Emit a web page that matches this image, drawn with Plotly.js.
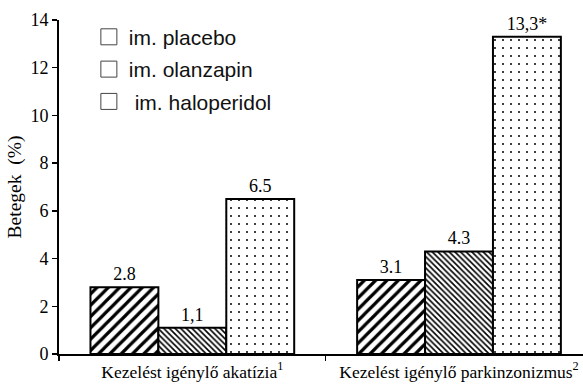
<!DOCTYPE html>
<html>
<head>
<meta charset="utf-8">
<script src="https://cdn.plot.ly/plotly-3.0.1.min.js"></script>
<style>html,body{margin:0;padding:0;background:#fff;}#chart{width:583px;height:385px;}</style>
</head>
<body>
<div id="chart"></div>
<script>
const categories = ["Kezelést igénylő akatízia<sup>1</sup>", "Kezelést igénylő parkinzonizmus<sup>2</sup>"];
const seriesNames = ["im. placebo", "im. olanzapin", " im. haloperidol"];
const placebo = [2.8, 3.1];
const olanzapin = [1.1, 4.3];
const haloperidol = [6.5, 13.3];
const placeboLabels = ["2.8", "3.1"];
const olanzapinLabels = ["1,1", "4.3"];
const haloperidolLabels = ["6.5", "13,3*"];
const yTicks = [0, 2, 4, 6, 8, 10, 12, 14];

const serif = "Liberation Serif, Times New Roman, serif";
const sans = "Liberation Sans, Arial, sans-serif";

function barTrace(vals, labels, name, shape, size, solidity) {
  return {
    type: "bar", x: categories, y: vals, name: name, showlegend: false,
    text: labels, textposition: "outside", cliponaxis: false,
    textfont: {family: serif, size: 18, color: "#000"},
    marker: {color: "#fff", line: {color: "#000", width: 2},
      pattern: {shape: shape, fgcolor: "#000", bgcolor: "#fff", size: size, solidity: solidity}}
  };
}
function legendTrace(name, i) {
  return {
    type: "scatter", mode: "markers", x: [null], y: [null], name: name,
    legendgroup: "g" + i, hoverinfo: "skip",
    marker: {symbol: "square-open", size: 16, color: "#444", line: {width: 1, color: "#444"}}
  };
}

const data = [
  barTrace(placebo, placeboLabels, seriesNames[0], "/", 8, 0.4),
  barTrace(olanzapin, olanzapinLabels, seriesNames[1], "\\", 4, 0.4),
  barTrace(haloperidol, haloperidolLabels, seriesNames[2], ".", 8, 0.05),
  legendTrace(seriesNames[0], 0),
  legendTrace(seriesNames[1], 1),
  legendTrace(seriesNames[2], 2)
];

const layout = {
  width: 583, height: 385,
  margin: {l: 59, r: 0, t: 20, b: 31},
  paper_bgcolor: "#fff", plot_bgcolor: "#fff",
  barmode: "group", bargap: 0.236, bargroupgap: 0,
  showlegend: true,
  legend: {x: 0.057, y: 1.01, xanchor: "left", yanchor: "top",
    font: {family: sans, size: 21, color: "#111"}, tracegroupgap: 2,
    bgcolor: "rgba(0,0,0,0)"},
  xaxis: {type: "category", range: [-0.5, 1.465], tickson: "boundaries",
    ticks: "outside", ticklen: 5, tickwidth: 1.5, tickcolor: "#000",
    showline: true, linecolor: "#000", linewidth: 1.5, showgrid: false, zeroline: false,
    ticklabelstandoff: 1,
    tickfont: {family: serif, size: 17.5, color: "#000"}},
  yaxis: {range: [0, 14], tickvals: yTicks, ticks: "outside", ticklen: 5, tickwidth: 1.5,
    tickcolor: "#000", showline: true, linecolor: "#000", linewidth: 2,
    showgrid: false, zeroline: false,
    tickfont: {family: serif, size: 18, color: "#000"},
    title: {text: "Betegek  (%)", font: {family: serif, size: 19.5, color: "#000"}, standoff: 4}}
};

Plotly.newPlot("chart", data, layout, {displayModeBar: false, staticPlot: true});
</script>
</body>
</html>
